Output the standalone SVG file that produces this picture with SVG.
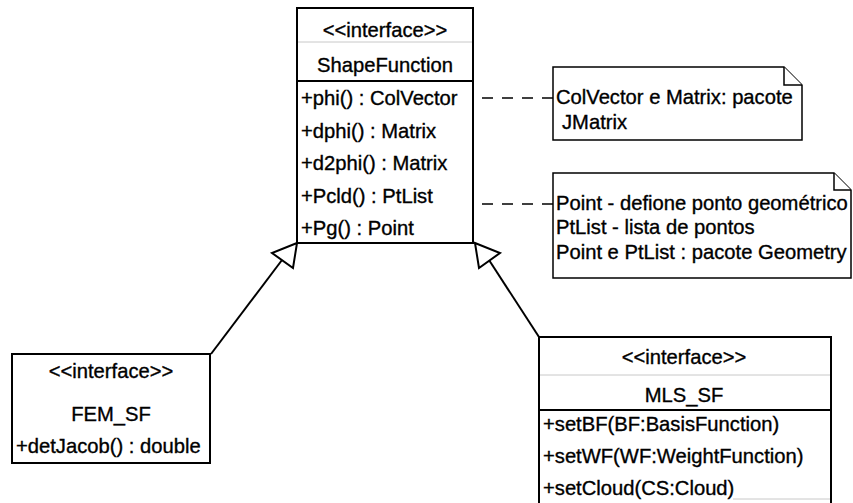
<svg xmlns="http://www.w3.org/2000/svg" width="853" height="503" viewBox="0 0 853 503">
<style>
text{font-family:"Liberation Sans",Arial,sans-serif;font-size:20.2px;fill:#000;stroke:#000;stroke-width:0.35}
.c{text-anchor:middle}
.box{fill:#fff;stroke:#000;stroke-width:2}
.lt{stroke:#c8c8c8;stroke-width:1}
.dk{stroke:#000;stroke-width:2}
.dash{stroke:#000;stroke-width:1.5;stroke-dasharray:11 9;fill:none}
.ln{stroke:#000;stroke-width:2;fill:none}
.tri{fill:#fff;stroke:#000;stroke-width:2;stroke-linejoin:miter}
.note{fill:#fff;stroke:#000;stroke-width:1.5}
</style>
<rect width="853" height="503" fill="#fff"/>
<g id="connectors">
<path class="dash" d="M553,98 L473,98"/>
<path class="dash" d="M553,204 L473,204"/>
<path class="ln" d="M282,260 L211,354"/>
<path class="ln" d="M489,260 L539,337"/>
<polygon class="tri" points="297,243 272,253 293,268"/>
<polygon class="tri" points="475,243 500,253 479,268"/>
</g>
<g id="ShapeFunction">
<rect class="box" x="297" y="8" width="176" height="235"/>
<line class="lt" x1="298" y1="42" x2="472" y2="42"/>
<line class="dk" x1="297" y1="81" x2="473" y2="81"/>
<text class="c" x="385" y="37">&lt;&lt;interface&gt;&gt;</text>
<text class="c" x="385" y="72">ShapeFunction</text>
<text x="301" y="105">+phi() : ColVector</text>
<text x="301" y="138">+dphi() : Matrix</text>
<text x="301" y="170">+d2phi() : Matrix</text>
<text x="301" y="203">+Pcld() : PtList</text>
<text x="301" y="235">+Pg() : Point</text>
</g>
<g id="note1">
<path class="note" d="M553,67 L784,67 L802,85 L802,140 L553,140 Z"/>
<path class="note" fill="none" d="M784,67 L784,85 L802,85"/>
<text x="556" y="104">ColVector e Matrix: pacote</text>
<text x="562" y="129">JMatrix</text>
</g>
<g id="note2">
<path class="note" d="M553,173 L834,173 L851,190 L851,278 L553,278 Z"/>
<path class="note" fill="none" d="M834,173 L834,190 L851,190"/>
<text x="556" y="210">Point - defione ponto geométrico</text>
<text x="556" y="234">PtList - lista de pontos</text>
<text x="556" y="259">Point e PtList : pacote Geometry</text>
</g>
<g id="FEM_SF">
<rect class="box" x="12" y="354" width="198" height="109"/>
<text class="c" x="111" y="378">&lt;&lt;interface&gt;&gt;</text>
<text class="c" x="111" y="421">FEM_SF</text>
<text x="16" y="453">+detJacob() : double</text>
</g>
<g id="MLS_SF">
<path class="box" d="M539,506 L539,337 L831,337 L831,506"/>
<line class="lt" x1="540" y1="375" x2="830" y2="375"/>
<line class="dk" x1="539" y1="410" x2="831" y2="410"/>
<line class="lt" x1="733" y1="499" x2="830" y2="499"/>
<text class="c" x="684" y="364">&lt;&lt;interface&gt;&gt;</text>
<text class="c" x="684" y="402">MLS_SF</text>
<text x="543" y="431">+setBF(BF:BasisFunction)</text>
<text x="543" y="463">+setWF(WF:WeightFunction)</text>
<text x="543" y="495">+setCloud(CS:Cloud)</text>
</g>
</svg>
